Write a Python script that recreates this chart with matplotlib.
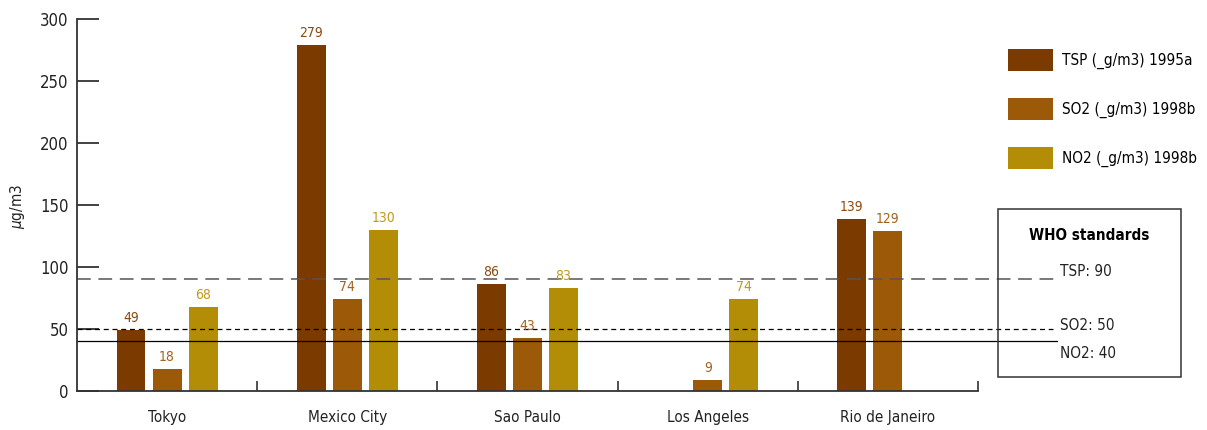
import numpy as np
import matplotlib.pyplot as plt
from matplotlib.patches import Rectangle

plt.rcParams['font.family'] = ['DejaVu Sans']
plt.rcParams['font.stretch'] = 'condensed'

cities = ['Tokyo', 'Mexico City', 'Sao Paulo', 'Los Angeles', 'Rio de Janeiro']
tsp = [49, 279, 86, None, 139]
so2 = [18, 74, 43, 9, 129]
no2 = [68, 130, 83, 74, None]
series_names = ['TSP (_g/m3) 1995a', 'SO2 (_g/m3) 1998b', 'NO2 (_g/m3) 1998b']
who_names = ['TSP: 90', 'SO2: 50', 'NO2: 40']
who_values = [90, 50, 40]

bar_colors = ['#7b3a00', '#9c5907', '#b38d06']
text_colors = ['#8a4a12', '#a3621e', '#c09a1c']

fig = plt.figure(figsize=(12.07, 4.3), dpi=100)
ax = fig.add_axes([77 / 1207, 39 / 430, 901 / 1207, 372 / 430])

x = np.arange(len(cities))
offsets = [-0.2, 0.0, 0.2]
for vals, off, col, tcol, name in zip([tsp, so2, no2], offsets, bar_colors, text_colors, series_names):
    xs = [xi + off for xi, v in zip(x, vals) if v is not None]
    vs = [v for v in vals if v is not None]
    ax.bar(xs, vs, width=0.16, color=col, label=name)
    for xi, v in zip(xs, vs):
        ax.text(xi, v + 4, str(v), ha='center', va='bottom', fontsize=10, color=tcol)

ax.set_xlim(-0.5, len(cities) - 0.5)
ax.set_ylim(0, 300)

# WHO standard lines, running out into the box on the right
ext = (1057 - 77) / 901
ax.axhline(who_values[0], xmax=ext, clip_on=False, color='#555555', lw=1.1, dashes=(9, 5))
ax.axhline(who_values[1], xmax=(1053 - 77) / 901, clip_on=False, color='black', lw=0.9, dashes=(4, 3))
ax.axhline(who_values[2], xmax=ext, clip_on=False, color='black', lw=0.9)

for s in ['top', 'right']:
    ax.spines[s].set_visible(False)
for s in ['left', 'bottom']:
    ax.spines[s].set_color('#333333')
    ax.spines[s].set_linewidth(1.3)

ax.set_yticks(np.arange(0, 301, 50))
ax.tick_params(axis='y', direction='in', length=16, width=1.3, color='#333333',
               labelsize=12, pad=6, labelcolor='#222222')
ax.set_xticks(x)
ax.set_xticklabels(cities)
ax.tick_params(axis='x', which='major', length=0, labelsize=11, pad=14, labelcolor='#222222')
ax.set_xticks(np.arange(0.5, len(cities), 1.0), minor=True)
ax.tick_params(axis='x', which='minor', direction='in', length=7, width=1.2, color='#333333')

ax.set_ylabel(r'$\mu$g/m3', fontsize=11, color='#222222')
ax.yaxis.set_label_coords(-50 / 901, 0.495)

ax.legend(loc='upper left', bbox_to_anchor=(1002 / 1207, 387 / 430), bbox_transform=fig.transFigure,
          frameon=False, fontsize=11, handlelength=2.95, handleheight=1.85,
          labelspacing=1.75, handletextpad=0.6, borderaxespad=0)

# WHO standards box
fig.patches.append(Rectangle((998 / 1207, 53 / 430), 183 / 1207, 168 / 430, transform=fig.transFigure,
                             fill=False, edgecolor='#333333', lw=1.1))
fig.text(1089 / 1207, 194 / 430, 'WHO standards', ha='center', va='center', fontsize=11, fontweight='bold')
for name, ypix in zip(who_names, [158, 105, 77]):
    fig.text(1060 / 1207, ypix / 430, name, ha='left', va='center', fontsize=11, color='#222222')

fig.savefig('out.png', dpi=100)
